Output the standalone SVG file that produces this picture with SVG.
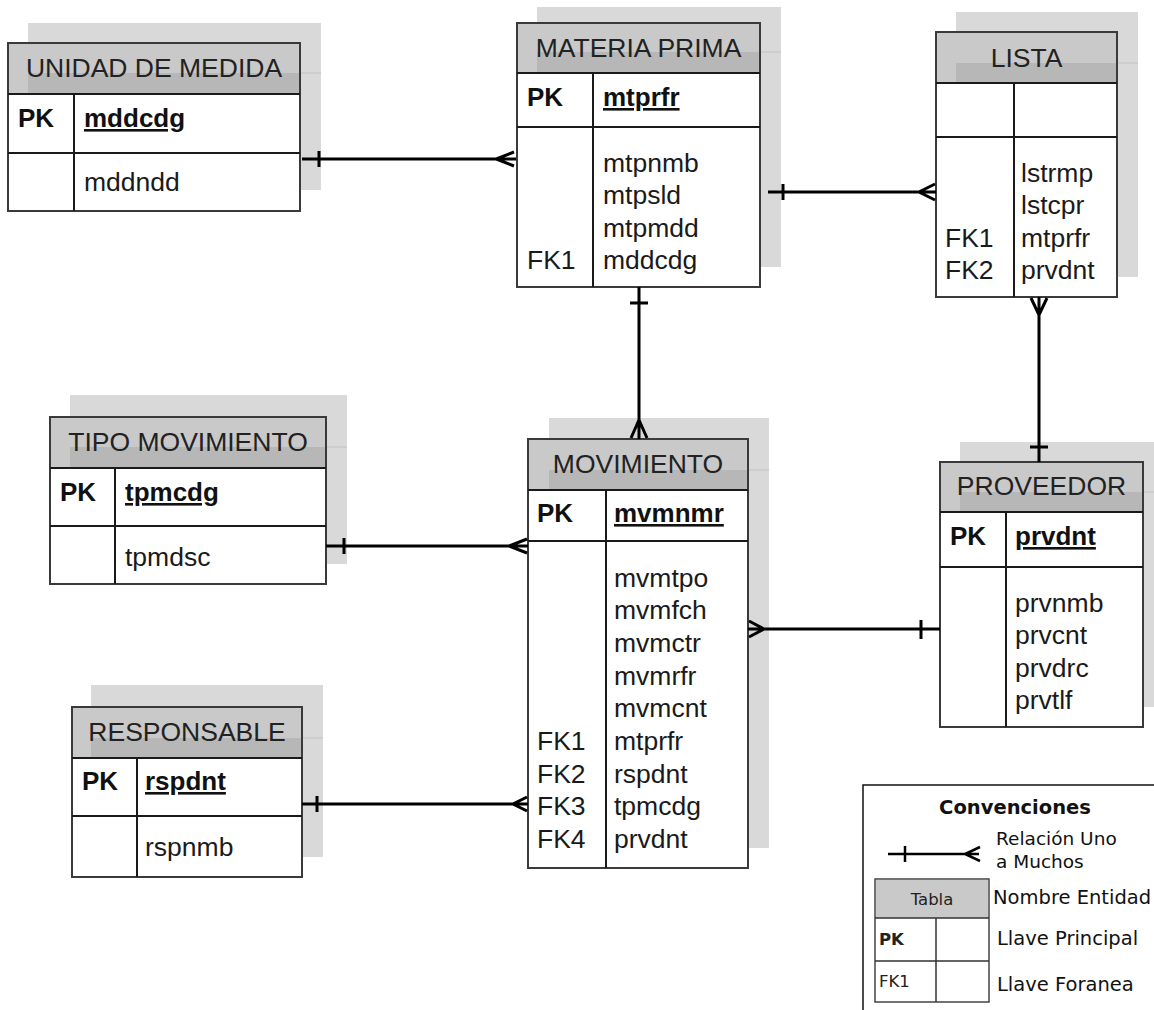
<svg xmlns="http://www.w3.org/2000/svg" width="1154" height="1010" viewBox="0 0 1154 1010">
  <style>
    .shadow { fill: #d9d9d9; }
    .shline { stroke: #c9c9c9; stroke-width: 1.5; }
    .body { fill: #ffffff; stroke: #3a3a3a; stroke-width: 2; }
    .head { fill: #c9c9c9; }
    .headdark { fill: #b7b7b7; }
    .rule { stroke: #1a1a1a; stroke-width: 2; fill: none; }
    .title { font-family: "Liberation Sans", Arial, sans-serif; font-size: 26.5px; fill: #222; text-anchor: middle; }
    .txt { font-family: "Liberation Sans", Arial, sans-serif; font-size: 26.5px; fill: #1a1a1a; }
    .pk { font-family: "Liberation Sans", Arial, sans-serif; font-size: 26px; font-weight: bold; fill: #111; }
    .pkf { text-decoration: underline; }
    .conn { stroke: #000; stroke-width: 3; fill: none; }
    .leg { font-family: "DejaVu Sans", Verdana, sans-serif; font-size: 19.5px; fill: #111; }
    .legr { font-family: "DejaVu Sans", Verdana, sans-serif; font-size: 18.5px; fill: #111; }
    .legs { font-family: "DejaVu Sans", Verdana, sans-serif; font-size: 16.5px; fill: #222; }
  </style>

  <!-- UNIDAD DE MEDIDA -->
  <g id="unidad-de-medida">
    <rect class="shadow" x="28" y="23" width="293" height="167"/>
    <line class="shline" x1="300" y1="73" x2="321" y2="73"/>
    <rect class="body" x="8" y="43" width="292" height="168"/>
    <rect class="head" x="9" y="44" width="290" height="50"/>
    <rect class="headdark" x="28" y="73" width="271" height="21"/>
    <rect x="8" y="43" width="292" height="168" fill="none" stroke="#3a3a3a" stroke-width="2"/>
    <path class="rule" d="M8,94 H300 M8,153 H300 M74,94 V211"/>
    <text class="title" x="154" y="77">UNIDAD DE MEDIDA</text>
    <text class="pk" x="18" y="127">PK</text>
    <text class="pk pkf" x="84" y="127">mddcdg</text>
    <text class="txt" x="84" y="191">mddndd</text>
  </g>

  <!-- MATERIA PRIMA -->
  <g id="materia-prima">
    <rect class="shadow" x="537" y="7" width="244" height="260"/>
    <line class="shline" x1="760" y1="52" x2="781" y2="52"/>
    <rect class="body" x="517" y="23" width="243" height="264"/>
    <rect class="head" x="518" y="24" width="241" height="49"/>
    <rect class="headdark" x="537" y="52" width="222" height="21"/>
    <rect x="517" y="23" width="243" height="264" fill="none" stroke="#3a3a3a" stroke-width="2"/>
    <path class="rule" d="M517,73 H760 M517,127 H760 M593,73 V287"/>
    <text class="title" x="638.5" y="57">MATERIA PRIMA</text>
    <text class="pk" x="527" y="106">PK</text>
    <text class="pk pkf" x="603" y="106">mtprfr</text>
    <text class="txt" x="603" y="172">mtpnmb</text>
    <text class="txt" x="603" y="204">mtpsld</text>
    <text class="txt" x="603" y="237">mtpmdd</text>
    <text class="txt" x="603" y="269">mddcdg</text>
    <text class="txt" x="527" y="269">FK1</text>
  </g>

  <!-- LISTA -->
  <g id="lista">
    <rect class="shadow" x="956" y="12" width="182" height="265"/>
    <line class="shline" x1="1117" y1="63" x2="1138" y2="63"/>
    <rect class="body" x="936" y="32" width="181" height="265"/>
    <rect class="head" x="937" y="33" width="179" height="50"/>
    <rect class="headdark" x="956" y="63" width="160" height="20"/>
    <rect x="936" y="32" width="181" height="265" fill="none" stroke="#3a3a3a" stroke-width="2"/>
    <path class="rule" d="M936,83 H1117 M936,137 H1117 M1014,83 V297"/>
    <text class="title" x="1026.5" y="67">LISTA</text>
    <text class="txt" x="1021" y="182">lstrmp</text>
    <text class="txt" x="1021" y="214">lstcpr</text>
    <text class="txt" x="1021" y="247">mtprfr</text>
    <text class="txt" x="1021" y="279">prvdnt</text>
    <text class="txt" x="945" y="247">FK1</text>
    <text class="txt" x="945" y="279">FK2</text>
  </g>

  <!-- TIPO MOVIMIENTO -->
  <g id="tipo-movimiento">
    <rect class="shadow" x="70" y="395" width="277" height="169"/>
    <line class="shline" x1="326" y1="447" x2="347" y2="447"/>
    <rect class="body" x="50" y="417" width="276" height="167"/>
    <rect class="head" x="51" y="418" width="274" height="50"/>
    <rect class="headdark" x="70" y="447" width="255" height="21"/>
    <rect x="50" y="417" width="276" height="167" fill="none" stroke="#3a3a3a" stroke-width="2"/>
    <path class="rule" d="M50,468 H326 M50,526 H326 M115,468 V584"/>
    <text class="title" x="188" y="451">TIPO MOVIMIENTO</text>
    <text class="pk" x="60" y="501">PK</text>
    <text class="pk pkf" x="125" y="501">tpmcdg</text>
    <text class="txt" x="125" y="566">tpmdsc</text>
  </g>

  <!-- MOVIMIENTO -->
  <g id="movimiento">
    <rect class="shadow" x="549" y="418" width="220" height="430"/>
    <line class="shline" x1="748" y1="470" x2="769" y2="470"/>
    <rect class="body" x="528" y="439" width="220" height="429"/>
    <rect class="head" x="529" y="440" width="218" height="50"/>
    <rect class="headdark" x="549" y="470" width="198" height="20"/>
    <rect x="528" y="439" width="220" height="429" fill="none" stroke="#3a3a3a" stroke-width="2"/>
    <path class="rule" d="M528,490 H748 M528,541 H748 M606,490 V868"/>
    <text class="title" x="638" y="473">MOVIMIENTO</text>
    <text class="pk" x="537" y="522">PK</text>
    <text class="pk pkf" x="614" y="522">mvmnmr</text>
    <text class="txt" x="614" y="587">mvmtpo</text>
    <text class="txt" x="614" y="619">mvmfch</text>
    <text class="txt" x="614" y="652">mvmctr</text>
    <text class="txt" x="614" y="685">mvmrfr</text>
    <text class="txt" x="614" y="717">mvmcnt</text>
    <text class="txt" x="614" y="750">mtprfr</text>
    <text class="txt" x="614" y="783">rspdnt</text>
    <text class="txt" x="614" y="815">tpmcdg</text>
    <text class="txt" x="614" y="848">prvdnt</text>
    <text class="txt" x="537" y="750">FK1</text>
    <text class="txt" x="537" y="783">FK2</text>
    <text class="txt" x="537" y="815">FK3</text>
    <text class="txt" x="537" y="848">FK4</text>
  </g>

  <!-- PROVEEDOR -->
  <g id="proveedor">
    <rect class="shadow" x="960" y="442" width="200" height="265"/>
    <line class="shline" x1="1143" y1="492" x2="1160" y2="492"/>
    <rect class="body" x="940" y="462" width="203" height="265"/>
    <rect class="head" x="941" y="463" width="201" height="49"/>
    <rect class="headdark" x="960" y="492" width="182" height="20"/>
    <rect x="940" y="462" width="203" height="265" fill="none" stroke="#3a3a3a" stroke-width="2"/>
    <path class="rule" d="M940,512 H1143 M940,567 H1143 M1006,512 V727"/>
    <text class="title" x="1041.5" y="495">PROVEEDOR</text>
    <text class="pk" x="950" y="545">PK</text>
    <text class="pk pkf" x="1015" y="545">prvdnt</text>
    <text class="txt" x="1015" y="612">prvnmb</text>
    <text class="txt" x="1015" y="644">prvcnt</text>
    <text class="txt" x="1015" y="677">prvdrc</text>
    <text class="txt" x="1015" y="709">prvtlf</text>
  </g>

  <!-- RESPONSABLE -->
  <g id="responsable">
    <rect class="shadow" x="91" y="685" width="232" height="172"/>
    <line class="shline" x1="302" y1="738" x2="323" y2="738"/>
    <rect class="body" x="72" y="707" width="230" height="170"/>
    <rect class="head" x="73" y="708" width="228" height="50"/>
    <rect class="headdark" x="91" y="738" width="210" height="20"/>
    <rect x="72" y="707" width="230" height="170" fill="none" stroke="#3a3a3a" stroke-width="2"/>
    <path class="rule" d="M72,758 H302 M72,816 H302 M137,758 V877"/>
    <text class="title" x="187" y="741">RESPONSABLE</text>
    <text class="pk" x="82" y="790">PK</text>
    <text class="pk pkf" x="145" y="790">rspdnt</text>
    <text class="txt" x="145" y="856">rspnmb</text>
  </g>

  <!-- Relationships: bar = one, crow's foot = many -->
  <g id="connectors">
    <path class="conn" d="M302,159 H516 M319,151 V167 M514,152 L496,159 L514,166"/>
    <path class="conn" d="M768,192 H936 M783,184 V200 M935,184 L919,192 L935,200"/>
    <path class="conn" d="M639,287 V439 M630,303 H648 M631,438 L639,420 L647,438"/>
    <path class="conn" d="M1039,297 V462 M1031,298 L1039,315 L1047,298 M1030,447 H1048"/>
    <path class="conn" d="M326,546 H528 M344,538 V554 M527,539 L509,546 L527,553"/>
    <path class="conn" d="M748,629 H940 M749,621 L764,629 L749,637 M921,620 V639"/>
    <path class="conn" d="M302,804 H528 M317,796 V812 M527,797 L513,804 L527,811"/>
  </g>

  <!-- Legend -->
  <g id="convenciones">
    <rect x="863" y="785" width="310" height="240" fill="#fff" stroke="#111" stroke-width="1.5"/>
    <text class="leg" x="1015" y="814" text-anchor="middle" font-weight="bold">Convenciones</text>
    <path d="M888,854 H979 M905,846 V862 M980,847 L965,854 L980,861" stroke="#000" stroke-width="2.5" fill="none"/>
    <text class="legr" x="996" y="845">Relación Uno</text>
    <text class="legr" x="996" y="868">a Muchos</text>
    <rect x="875" y="879" width="114" height="123" fill="#fff" stroke="#444" stroke-width="1.5"/>
    <rect x="876" y="880" width="112" height="38" fill="#c9c9c9"/>
    <path d="M875,918 H989 M875,961 H989 M936,918 V1002" stroke="#333" stroke-width="1.5" fill="none"/>
    <text class="legs" x="932" y="905" text-anchor="middle">Tabla</text>
    <text class="legs" x="879" y="945" font-weight="bold">PK</text>
    <text class="legs" x="879" y="987">FK1</text>
    <text class="leg" x="993" y="904">Nombre Entidad</text>
    <text class="leg" x="997" y="945">Llave Principal</text>
    <text class="leg" x="997" y="991">Llave Foranea</text>
  </g>
</svg>
